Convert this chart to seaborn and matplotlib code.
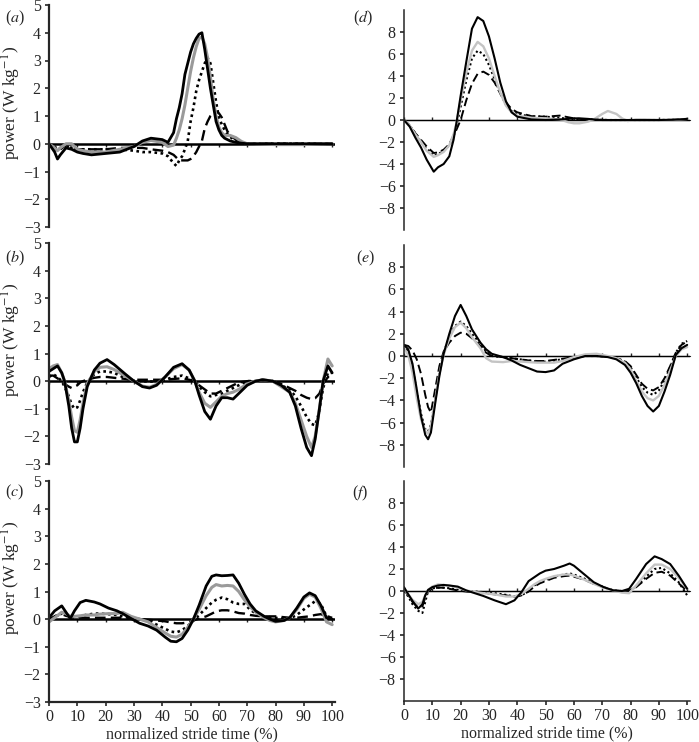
import numpy as np
import pandas as pd
import matplotlib
matplotlib.use("Agg")
import matplotlib.pyplot as plt
import seaborn as sns

# ---------------- data ----------------
# panel (a)
xa = [0, 2, 3, 4, 6, 8, 10, 12, 15, 20, 25, 30, 33, 36, 40, 42, 44, 45, 46, 47, 48, 49, 50,
      51, 52, 53, 54, 55, 56, 57, 58, 59, 60, 61, 62, 63, 64, 66, 68, 70, 80, 90, 100]
a_black = [0, -0.3, -0.55, -0.4, -0.15, -0.2, -0.3, -0.35, -0.4, -0.35, -0.3, -0.1, 0.1, 0.2, 0.15,
           0.05, 0.4, 0.9, 1.3, 1.8, 2.5, 2.9, 3.3, 3.6, 3.8, 3.95, 4.0, 3.4, 2.7, 2.0, 1.4, 0.8,
           0.5, 0.3, 0.2, 0.15, 0.1, 0.05, 0.02, 0, 0, 0, 0]
a_gray = [0, -0.15, -0.25, -0.15, 0, 0, -0.2, -0.25, -0.3, -0.3, -0.2, -0.1, 0.05, 0.12, 0.05,
          -0.1, -0.05, 0.2, 0.5, 0.9, 1.4, 2.0, 2.6, 3.1, 3.5, 3.8, 3.85, 3.6, 3.1, 2.4, 1.6, 1.0,
          0.6, 0.4, 0.3, 0.3, 0.3, 0.22, 0.08, 0, -0.03, -0.03, 0]
a_dot = [0, -0.1, -0.2, -0.15, -0.05, -0.15, -0.2, -0.2, -0.2, -0.2, -0.2, -0.25, -0.3, -0.3, -0.35,
         -0.45, -0.7, -0.8, -0.6, -0.45, -0.2, 0.1, 0.8, 1.3, 1.9, 2.3, 2.6, 2.9, 3.1, 2.9, 2.2, 1.5,
         0.95, 0.7, 0.5, 0.35, 0.25, 0.08, 0.02, 0, 0, 0, 0]
a_dash = [0, -0.15, -0.3, -0.2, -0.05, -0.15, -0.2, -0.2, -0.2, -0.2, -0.15, -0.15, -0.15, -0.2, -0.25,
          -0.3, -0.4, -0.5, -0.6, -0.6, -0.6, -0.6, -0.55, -0.45, -0.3, -0.1, 0.1, 0.55, 0.8, 1.0,
          1.1, 1.15, 1.1, 0.95, 0.7, 0.45, 0.3, 0.15, 0.05, 0, 0, 0, 0]

# panel (b)
xb = [0, 1.5, 3, 4.5, 5.5, 7, 8, 9, 10, 11, 12, 13.5, 16, 18, 20.5, 23, 27, 30, 33, 35.5, 38, 41, 44,
      47, 49.5, 51.5, 53, 55, 57, 59, 61, 63, 65, 67, 70, 73, 75.5, 79, 82, 85, 87, 89, 91, 92.7, 94,
      95.5, 96.8, 98.5, 100]
b_black = [0.35, 0.45, 0.55, 0.3, 0, -0.9, -1.7, -2.2, -2.2, -1.7, -1.0, -0.2, 0.4, 0.65, 0.78, 0.6,
           0.25, 0, -0.2, -0.25, -0.15, 0.15, 0.5, 0.63, 0.4, 0, -0.5, -1.1, -1.38, -0.9, -0.6, -0.6,
           -0.65, -0.45, -0.15, 0, 0.05, 0, -0.15, -0.4, -0.9, -1.7, -2.4, -2.7, -2.1, -1.0, 0, 0.55, 0.3]
b_gray = [0.45, 0.55, 0.6, 0.3, 0, -0.7, -1.3, -1.8, -1.85, -1.4, -0.8, -0.1, 0.35, 0.5, 0.52, 0.42,
          0.18, 0, -0.18, -0.22, -0.12, 0.15, 0.45, 0.6, 0.4, 0, -0.4, -0.8, -0.95, -0.75, -0.55, -0.45,
          -0.4, -0.3, -0.1, 0, 0.05, 0, -0.2, -0.4, -0.8, -1.4, -2.0, -2.4, -2.0, -1.0, 0, 0.8, 0.55]
b_dot = [0.15, 0.25, 0.15, 0, -0.2, -0.55, -0.85, -1.0, -0.95, -0.7, -0.4, -0.05, 0.25, 0.35, 0.35, 0.3,
         0.1, 0.02, 0, -0.02, 0, 0.05, 0.15, 0.2, 0.1, 0, -0.2, -0.4, -0.55, -0.5, -0.45, -0.35, -0.25,
         -0.15, 0, 0, 0.05, 0, -0.15, -0.3, -0.55, -0.9, -1.3, -1.55, -1.6, -1.1, -0.25, 0.3, 0.3]
b_dash = [0.2, 0.2, 0.1, 0, -0.1, -0.2, -0.25, -0.2, -0.15, -0.05, 0, 0.05, 0.12, 0.15, 0.15, 0.12,
          0.08, 0.05, 0.05, 0.05, 0.05, 0.05, 0.08, 0.1, 0.05, 0, -0.15, -0.3, -0.45, -0.45, -0.35,
          -0.25, -0.15, -0.05, 0, 0, 0.05, 0, -0.1, -0.25, -0.35, -0.5, -0.6, -0.65, -0.62, -0.45,
          -0.1, 0.15, 0.15]

# panel (c)
xc = [0, 2, 4.5, 6, 7.5, 9, 11, 13, 16, 18, 21, 24, 26, 29, 32, 35, 38, 41, 43, 45, 47, 49, 51, 53,
      55.5, 57.5, 59, 61, 63, 65, 67, 69, 71, 73, 76, 78, 80, 83, 85, 87.5, 90, 92, 94, 96, 98, 100]
c_black = [0.05, 0.3, 0.48, 0.25, 0.02, 0.3, 0.6, 0.68, 0.62, 0.55, 0.4, 0.3, 0.2, 0.02, -0.15, -0.25,
           -0.4, -0.65, -0.8, -0.82, -0.7, -0.4, 0, 0.5, 1.2, 1.55, 1.6, 1.57, 1.58, 1.6, 1.3, 0.9,
           0.55, 0.3, 0.1, 0, -0.08, -0.05, 0.05, 0.4, 0.8, 0.95, 0.85, 0.5, 0.05, 0]
c_gray = [-0.1, 0.05, 0.25, 0.2, 0.1, 0.1, 0.12, 0.15, 0.15, 0.18, 0.2, 0.2, 0.25, 0.1, 0, -0.1, -0.3,
          -0.5, -0.62, -0.65, -0.55, -0.3, 0, 0.35, 0.85, 1.15, 1.25, 1.2, 1.22, 1.2, 1.0, 0.7, 0.45,
          0.25, 0.05, -0.05, -0.1, -0.05, 0.05, 0.35, 0.75, 0.9, 0.8, 0.4, -0.1, -0.2]
c_dot = [0, 0.1, 0.2, 0.15, 0.12, 0.1, 0.1, 0.15, 0.2, 0.2, 0.18, 0.15, 0.1, 0.05, 0, -0.05, -0.2,
         -0.35, -0.45, -0.48, -0.4, -0.25, -0.05, 0.15, 0.4, 0.6, 0.7, 0.78, 0.72, 0.6, 0.55, 0.55,
         0.35, 0.2, 0.1, 0.07, 0.05, 0, 0.02, 0.15, 0.35, 0.5, 0.65, 0.55, 0.1, 0.05]
c_dash = [0, 0.1, 0.18, 0.12, 0.08, 0.05, 0.05, 0.05, 0.05, 0.05, 0.05, 0.05, 0.05, 0.02, 0, -0.02,
          -0.05, -0.08, -0.12, -0.15, -0.15, -0.12, -0.05, 0.02, 0.1, 0.2, 0.28, 0.32, 0.32, 0.28,
          0.22, 0.2, 0.15, 0.12, 0.1, 0.1, 0.1, 0.07, 0.05, 0.05, 0.08, 0.1, 0.15, 0.18, 0.1, 0.05]

# panel (d)
xd = [0, 2, 4, 6, 8, 10.5, 12, 14, 16, 17.5, 18.5, 20, 22, 24, 26, 28, 30, 32, 34, 36, 38, 40, 45,
      50, 55, 58, 60, 62, 65, 67, 70, 72, 75, 77, 79, 82, 85, 90, 95, 100]
d_black = [0, -0.6, -1.6, -2.5, -3.6, -4.7, -4.3, -4.0, -3.3, -1.8, -0.3, 2.2, 5.3, 8.3, 9.35, 9.0,
           7.6, 5.6, 3.4, 1.7, 0.7, 0.3, 0.05, 0, 0.05, 0.1, 0.15, 0.15, 0.1, 0.05, 0, 0, 0, 0, 0,
           0, 0, 0, 0.02, 0.1]
d_gray = [0, -0.5, -1.3, -2.0, -2.8, -3.35, -3.2, -2.9, -2.3, -1.3, -0.3, 1.8, 4.3, 6.3, 7.1, 6.7, 5.6,
          4.0, 2.5, 1.3, 0.7, 0.4, 0.2, 0.15, 0.05, -0.2, -0.3, -0.3, -0.15, 0.05, 0.55, 0.82, 0.55,
          0.15, -0.1, 0.05, 0.05, 0, 0, 0.1]
d_dot = [0, -0.5, -1.2, -2.0, -2.6, -3.25, -3.1, -2.8, -2.3, -1.5, -0.6, 1.2, 3.6, 5.6, 6.3, 6.0, 5.0,
         3.7, 2.4, 1.4, 0.8, 0.5, 0.35, 0.3, 0.2, 0.1, 0.05, 0.05, 0.05, 0.03, 0.02, 0, 0, 0, 0, 0,
         0, 0, 0.02, 0.1]
d_dash = [0, -0.5, -1.2, -1.8, -2.4, -3.0, -2.95, -2.7, -2.2, -1.4, -0.9, 0, 1.8, 3.3, 4.2, 4.4, 4.1,
          3.4, 2.4, 1.6, 1.0, 0.7, 0.35, 0.3, 0.4, 0.25, 0.15, 0.1, 0.05, 0.03, 0.02, 0, 0, 0, 0, 0,
          0, 0, 0.02, 0.1]

# panel (e)
xe = [0, 1.5, 3, 4.5, 6, 7.5, 8.5, 9.5, 11, 12.5, 14, 16, 18, 20, 22, 24, 27, 29, 31, 35, 38, 41, 44,
      47, 50, 53, 56, 60, 64, 68, 72, 75, 78, 80, 82, 84, 86, 88, 90, 92, 94, 96, 98, 100]
e_black = [1.0, 0.6, -0.7, -3.0, -5.4, -7.1, -7.5, -6.9, -4.3, -1.8, 0.2, 2.0, 3.6, 4.6, 3.6, 2.4,
           1.2, 0.6, 0.2, -0.1, -0.4, -0.8, -1.1, -1.4, -1.45, -1.3, -0.7, -0.3, 0, 0, -0.1, -0.3,
           -0.8, -1.5, -2.45, -3.6, -4.5, -5.0, -4.5, -3.2, -1.7, 0.1, 0.7, 1.0]
e_gray = [0.7, 0.1, -1.5, -3.8, -5.7, -6.8, -7.0, -6.3, -4.0, -1.6, 0.1, 1.6, 2.6, 3.0, 2.5, 1.7, 0.7,
          -0.2, -0.5, -0.55, -0.45, -0.5, -0.55, -0.6, -0.6, -0.6, -0.45, -0.1, 0.15, 0.2, 0, -0.2,
          -0.6, -1.2, -2.2, -3.2, -3.8, -4.0, -3.6, -2.6, -1.3, 0, 0.6, 0.8]
e_dot = [1.0, 0.4, -1.0, -3.2, -5.2, -6.6, -6.8, -6.2, -3.9, -1.5, 0.3, 1.7, 2.7, 3.1, 2.7, 2.0, 1.1,
         0.4, 0, -0.1, -0.2, -0.3, -0.4, -0.5, -0.5, -0.4, -0.3, -0.15, 0, 0, -0.05, -0.2, -0.5,
         -1.0, -1.9, -2.8, -3.3, -3.5, -3.1, -2.2, -1.0, 0.3, 1.1, 1.35]
e_dash = [1.0, 0.9, 0.5, -0.3, -1.6, -3.5, -4.6, -5.1, -3.0, -0.9, 0.4, 1.2, 1.8, 2.1, 2.0, 1.6, 0.9,
          0.3, 0, -0.1, -0.2, -0.3, -0.4, -0.45, -0.45, -0.35, -0.25, -0.1, 0, 0, -0.05, -0.2,
          -0.45, -0.9, -1.7, -2.5, -2.95, -3.1, -2.8, -2.0, -0.9, 0.3, 1.0, 1.3]

# panel (f)
xf = [0, 1.5, 3, 5, 6.5, 7.5, 8.5, 10, 12, 14, 16, 19, 22, 25, 28, 32, 36, 39, 41.5, 44, 46, 48, 50,
      53, 56.5, 58.5, 60, 63.5, 67, 70.5, 74, 77, 79.5, 82, 85.5, 88.5, 91, 94, 97, 100]
f_black = [0.35, -0.3, -0.9, -1.6, -1.2, -0.4, 0.1, 0.35, 0.5, 0.55, 0.5, 0.4, 0.05, -0.2, -0.45,
           -0.85, -1.2, -0.85, -0.1, 0.9, 1.25, 1.6, 1.85, 2.0, 2.3, 2.5, 2.3, 1.55, 0.8, 0.35, 0.05,
           0, 0.2, 1.1, 2.45, 3.15, 2.9, 2.45, 1.4, 0.2]
f_gray = [0.2, -0.3, -0.8, -1.2, -1.0, -0.4, 0.1, 0.4, 0.6, 0.55, 0.5, 0.3, 0.05, -0.1, -0.2, -0.3,
          -0.5, -0.5, -0.25, 0.2, 0.6, 0.9, 1.1, 1.35, 1.5, 1.5, 1.4, 1.05, 0.65, 0.3, 0.05, -0.15,
          -0.2, 0.5, 1.6, 2.4, 2.4, 2.0, 1.2, 0.2]
f_dot = [0, -0.5, -1.2, -1.8, -2.0, -1.0, 0, 0.25, 0.3, 0.3, 0.25, 0.15, 0, -0.05, -0.1, -0.2, -0.35,
         -0.5, -0.4, 0, 0.5, 0.8, 1.0, 1.3, 1.5, 1.6, 1.5, 1.15, 0.7, 0.35, 0.05, 0, 0, 0.4, 1.3, 2.0,
         2.1, 1.6, 0.8, -0.4]
f_dash = [0.1, -0.4, -1.0, -1.5, -1.4, -0.6, 0, 0.2, 0.3, 0.3, 0.2, 0.05, -0.05, -0.1, -0.2, -0.3,
          -0.4, -0.5, -0.4, -0.05, 0.4, 0.7, 0.9, 1.2, 1.35, 1.4, 1.3, 1.05, 0.65, 0.35, 0.05, 0, 0,
          0.35, 1.1, 1.65, 1.75, 1.4, 0.7, 0]

panel_labels = ["a", "b", "c", "d", "e", "f"]
x_ticks = list(range(0, 101, 10))
left_yticks = [5, 4, 3, 2, 1, 0, -1, -2, -3]
right_yticks = [8, 6, 4, 2, 0, -2, -4, -6, -8]
ylabel_text = r"power (W kg$^{-1}$)"
xlabel_text = "normalized stride time (%)"

# ---------------- style ----------------
sns.set_style("ticks")
plt.rcParams["font.family"] = ["Liberation Serif", "DejaVu Serif"]
plt.rcParams["mathtext.fontset"] = "stix"

W, H = 699, 742
fig = plt.figure(figsize=(W / 100, H / 100), dpi=100)


def rect(x0, x1, y0, y1):
    return [x0 / W, 1 - y1 / H, (x1 - x0) / W, (y1 - y0) / H]


panels = [
    dict(x=xa, ys=[a_dash, a_dot, a_gray, a_black], r=rect(49, 335, 5, 227), side="L", bottom=False),
    dict(x=xb, ys=[b_dash, b_dot, b_gray, b_black], r=rect(49, 335, 243, 464), side="L", bottom=False),
    dict(x=xc, ys=[c_dash, c_dot, c_gray, c_black], r=rect(49, 335, 481, 702), side="L", bottom=True),
    dict(x=xd, ys=[d_dash, d_dot, d_gray, d_black], r=rect(404, 690, 10, 230), side="R", bottom=False),
    dict(x=xe, ys=[e_dash, e_dot, e_gray, e_black], r=rect(404, 690, 245, 467), side="R", bottom=False),
    dict(x=xf, ys=[f_dash, f_dot, f_gray, f_black], r=rect(404, 690, 481, 701), side="R", bottom=True),
]

label_pos = [(5, 9), (5, 249), (5, 483), (353, 9), (356, 249), (352, 484)]

for i, p in enumerate(panels):
    ax = fig.add_axes(p["r"])
    left = p["side"] == "L"
    gray = "#9a9a9a" if left else "#c4c4c4"
    lw_main = 2.0 if left else 1.5
    styles = [
        dict(color="black", linestyle=(0, (4.5, 2.2)), linewidth=1.7 if left else 1.4),
        dict(color="black", linestyle=(0, (1.0, 1.3)), linewidth=1.9 if left else 1.5),
        dict(color=gray, linestyle="-", linewidth=lw_main + 0.2),
        dict(color="black", linestyle="-", linewidth=lw_main),
    ]
    for ys, st in zip(p["ys"], styles):
        df = pd.DataFrame({"x": p["x"], "y": ys})
        sns.lineplot(data=df, x="x", y="y", ax=ax, legend=False, **st)
    ax.axhline(0, color="black", linewidth=1.8 if left else 1.0, zorder=1)

    ax.set_xlim(0, 101)
    if left:
        ax.set_ylim(-3, 5)
        ax.set_yticks(left_yticks)
        ax.set_yticklabels([str(t).replace("-", "\u2212") for t in left_yticks])
    else:
        ax.set_ylim(-10, 10)
        ax.set_yticks(right_yticks)
        ax.set_yticklabels([str(t).replace("-", "\u2212") for t in right_yticks])
    ymin, ymax = ax.get_ylim()
    ax.set_xlabel("")
    ax.set_ylabel("")
    for s in ["top", "right"]:
        ax.spines[s].set_visible(False)
    ax.spines["left"].set_linewidth(1.6 if left else 1.1)
    ax.tick_params(axis="y", direction="out", length=3, width=1.2, labelsize=11.5, pad=3)

    # tick marks along the zero line
    sec = ax.secondary_xaxis((0 - ymin) / (ymax - ymin))
    sec.set_xticks(x_ticks)
    sec.set_xticklabels([])
    sec.tick_params(direction="out", length=2.5, width=1.0)
    sec.spines["bottom"].set_visible(False)

    if p["bottom"]:
        ax.spines["bottom"].set_linewidth(1.6 if left else 1.1)
        ax.set_xticks(x_ticks)
        ax.tick_params(axis="x", direction="out", length=3, width=1.2, labelsize=11.5, pad=2)
        ax.set_xlabel(xlabel_text, fontsize=11.5, labelpad=1)
    else:
        ax.spines["bottom"].set_visible(False)
        ax.set_xticks([])

    if left:
        ax.set_ylabel(ylabel_text, fontsize=12.5)
        ax.yaxis.set_label_coords(-0.09, 0.56)

    lx, ly = label_pos[i]
    fig.text(lx / W, 1 - ly / H, "(" + r"$\mathit{" + panel_labels[i] + "}$" + ")",
             fontsize=11.5, va="top", ha="left")

fig.savefig("out.png", dpi=100)
